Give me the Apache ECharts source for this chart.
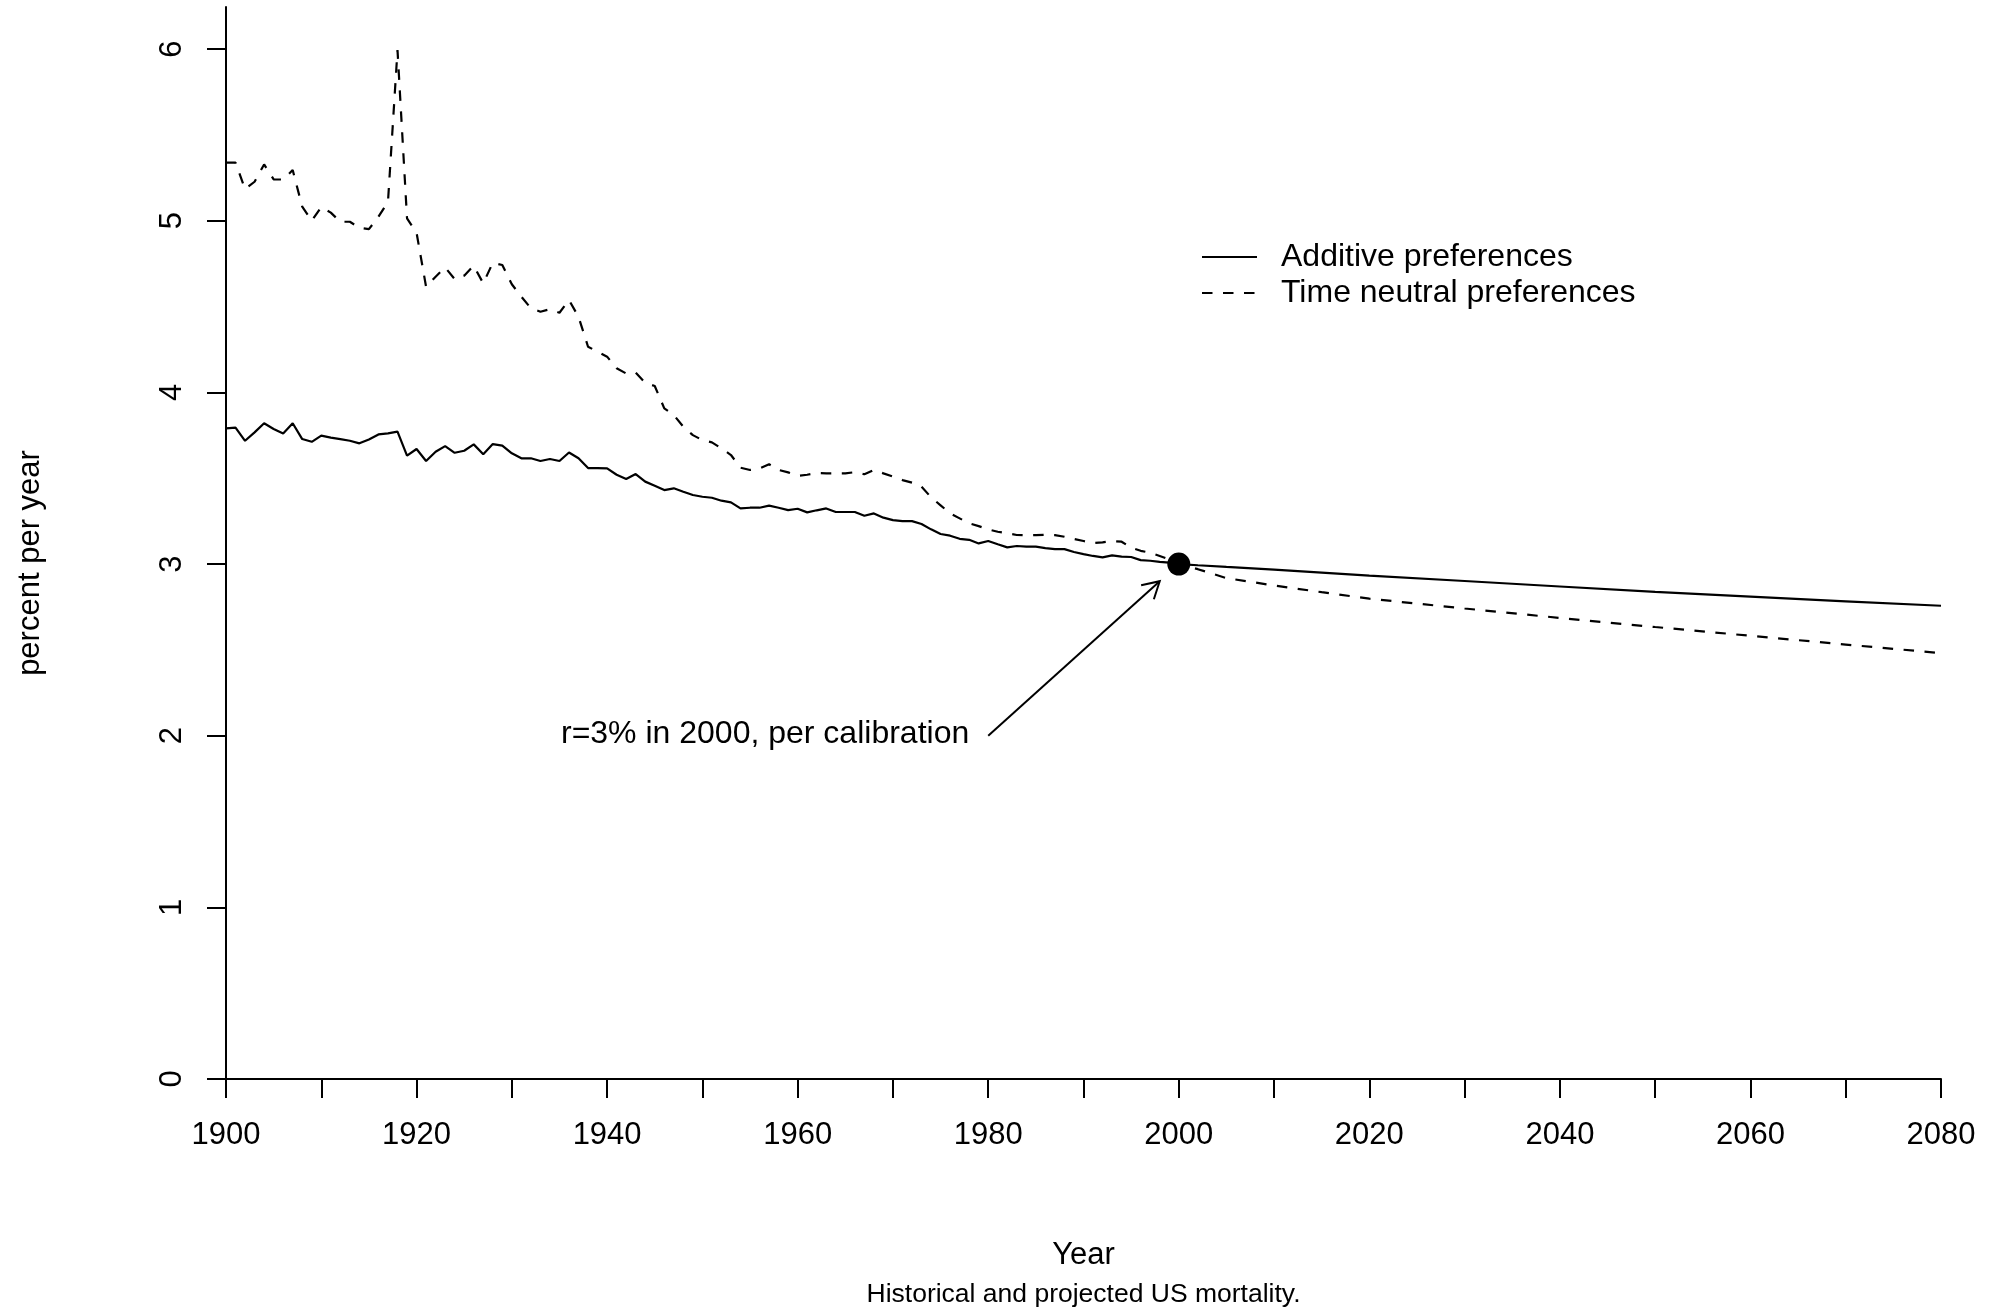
<!DOCTYPE html>
<html>
<head>
<meta charset="utf-8">
<script src="https://cdn.jsdelivr.net/npm/echarts@6/dist/echarts.min.js"></script>
<style>html,body{margin:0;padding:0;background:#fff}#c{width:2000px;height:1312px}</style>
</head>
<body>
<div id="c"></div>
<script>
// ---------------- data ----------------
const histStart = 1900;
const additiveHist = [
  3.79, 3.795, 3.718, 3.767, 3.82, 3.787, 3.761, 3.82, 3.728, 3.712,
  3.748, 3.736, 3.728, 3.718, 3.703, 3.726, 3.755, 3.761, 3.771, 3.631,
  3.67, 3.60, 3.654, 3.687, 3.648, 3.66, 3.697, 3.64, 3.699, 3.69,
  3.645, 3.616, 3.616, 3.60, 3.612, 3.60, 3.65, 3.616, 3.559, 3.559,
  3.557, 3.52, 3.495, 3.524, 3.48, 3.456, 3.431, 3.441, 3.421, 3.402,
  3.392, 3.386, 3.369, 3.359, 3.324, 3.328, 3.328, 3.34, 3.328, 3.314,
  3.322, 3.301, 3.313, 3.324, 3.303, 3.303, 3.303, 3.281, 3.295, 3.27,
  3.256, 3.25, 3.25, 3.233, 3.202, 3.175, 3.165, 3.147, 3.141, 3.12,
  3.134, 3.115, 3.097, 3.105, 3.101, 3.101, 3.093, 3.087, 3.087, 3.07,
  3.058, 3.047, 3.039, 3.05, 3.043, 3.041, 3.023, 3.019, 3.013, 3.008,
  3.0
];
const neutralHist = [
  5.338, 5.338, 5.184, 5.227, 5.328, 5.241, 5.24, 5.295, 5.082, 5.0,
  5.08, 5.047, 4.994, 4.994, 4.959, 4.951, 5.023, 5.11, 5.994, 5.014,
  4.93, 4.615, 4.674, 4.728, 4.66, 4.68, 4.738, 4.635, 4.755, 4.742,
  4.63, 4.557, 4.49, 4.47, 4.484, 4.464, 4.538, 4.44, 4.266, 4.237,
  4.208, 4.14, 4.11, 4.115, 4.056, 4.037, 3.907, 3.868, 3.80, 3.751,
  3.722, 3.709, 3.674, 3.635, 3.561, 3.548, 3.557, 3.581, 3.548, 3.534,
  3.514, 3.52, 3.53, 3.528, 3.528, 3.528, 3.535, 3.523, 3.548, 3.528,
  3.509, 3.489, 3.474, 3.45, 3.389, 3.342, 3.295, 3.266, 3.237, 3.221,
  3.202, 3.188, 3.179, 3.169, 3.168, 3.168, 3.17, 3.168, 3.159, 3.146,
  3.134, 3.122, 3.126, 3.134, 3.13, 3.095, 3.077, 3.066, 3.047, 3.027,
  3.0
];
const projYears    = [2002, 2005, 2010, 2015, 2020, 2030, 2040, 2050, 2060, 2070, 2080];
const additiveProj = [2.993, 2.983, 2.967, 2.95, 2.933, 2.901, 2.869, 2.838, 2.81, 2.783, 2.757];
const neutralProj  = [2.97, 2.918, 2.875, 2.836, 2.798, 2.741, 2.686, 2.633, 2.582, 2.531, 2.481];

const calibPoint = [2000, 3.0];
const annoFrom = [1980, 2.0];
const annoTo = [1998, 2.9];
const annoText = 'r=3% in 2000, per calibration';

const seriesNames = ['Additive preferences', 'Time neutral preferences'];
const xTitle = 'Year';
const yTitle = 'percent per year';
const subTitle = 'Historical and projected US mortality.';

// --------------- build ---------------
function buildSeries(hist, projY, projV) {
  const out = hist.map((v, i) => [histStart + i, v]);
  projY.forEach((y, i) => out.push([y, projV[i]]));
  return out;
}
const addData = buildSeries(additiveHist, projYears, additiveProj);
const neuData = buildSeries(neutralHist, projYears, neutralProj);

const FONT = 'Liberation Sans, Arial, Helvetica, sans-serif';
const DASH = [10.5, 10.5];
const chart = echarts.init(document.getElementById('c'), null, {renderer: 'canvas'});

// legend layout (drawn as graphic so the key shows plain line styles)
const LEG_X0 = 1202, LEG_X1 = 1257, LEG_TX = 1281, LEG_Y = [257, 293];

chart.setOption({
  animation: false,
  backgroundColor: '#ffffff',
  textStyle: {fontFamily: FONT, color: '#000'},
  grid: {left: 226, right: 59, top: 7, bottom: 233, containLabel: false},
  xAxis: {
    type: 'value', min: 1900, max: 2080, interval: 10,
    axisLine: {show: true, lineStyle: {color: '#000', width: 2}},
    axisTick: {show: true, length: 19, lineStyle: {color: '#000', width: 2}},
    axisLabel: {
      margin: 41, fontSize: 31, color: '#000', fontFamily: FONT,
      formatter: v => (v % 20 === 0 ? String(v) : '')
    },
    splitLine: {show: false}
  },
  yAxis: {
    type: 'value', min: 0, max: 6.245, interval: 1,
    axisLine: {show: true, lineStyle: {color: '#000', width: 2}},
    axisTick: {show: true, length: 19, lineStyle: {color: '#000', width: 2}},
    axisLabel: {
      margin: 38, fontSize: 31, color: '#000', fontFamily: FONT, rotate: 90,
      showMaxLabel: false,
      formatter: v => (Number.isInteger(v) ? String(v) : '')
    },
    splitLine: {show: false}
  },
  graphic: [
    {type: 'text', x: 30, y: 563, rotation: Math.PI / 2,
     style: {text: yTitle, x: 0, y: 0, align: 'center', verticalAlign: 'middle', font: '31px ' + FONT, fill: '#000'}},
    {type: 'text', x: 1083.5, y: 1255,
     style: {text: xTitle, x: 0, y: 0, align: 'center', verticalAlign: 'middle', font: '31px ' + FONT, fill: '#000'}},
    {type: 'text', x: 1083.5, y: 1295,
     style: {text: subTitle, x: 0, y: 0, align: 'center', verticalAlign: 'middle', font: '26.5px ' + FONT, fill: '#000'}},
    {type: 'line', shape: {x1: LEG_X0, y1: LEG_Y[0], x2: LEG_X1, y2: LEG_Y[0]},
     style: {stroke: '#000', lineWidth: 2.2}},
    {type: 'line', shape: {x1: LEG_X0, y1: LEG_Y[1], x2: LEG_X1, y2: LEG_Y[1]},
     style: {stroke: '#000', lineWidth: 2.2, lineDash: DASH}},
    {type: 'text', x: LEG_TX, y: LEG_Y[0],
     style: {text: seriesNames[0], x: 0, y: 0, align: 'left', verticalAlign: 'middle', font: '32px ' + FONT, fill: '#000'}},
    {type: 'text', x: LEG_TX, y: LEG_Y[1],
     style: {text: seriesNames[1], x: 0, y: 0, align: 'left', verticalAlign: 'middle', font: '32px ' + FONT, fill: '#000'}}
  ],
  series: [
    {
      name: seriesNames[0], type: 'line', data: addData, symbol: 'none',
      lineStyle: {color: '#000', width: 2.2, type: 'solid'}, itemStyle: {color: '#000'}, z: 2
    },
    {
      name: seriesNames[1], type: 'line', data: neuData, symbol: 'none',
      lineStyle: {color: '#000', width: 2.2, type: DASH}, itemStyle: {color: '#000'}, z: 2
    },
    {
      name: 'calibration', type: 'scatter', data: [calibPoint], symbol: 'circle', symbolSize: 23,
      itemStyle: {color: '#000', opacity: 1}, z: 5
    },
    {
      name: 'annotation', type: 'custom', data: [[annoFrom[0], annoFrom[1], annoTo[0], annoTo[1]]],
      clip: false, z: 4,
      renderItem: function (params, api) {
        const p0 = api.coord([api.value(0), api.value(1)]);
        const p1 = api.coord([api.value(2), api.value(3)]);
        const ang = Math.atan2(p1[1] - p0[1], p1[0] - p0[0]);
        const L = 19, A = Math.PI / 6;
        const a1 = [p1[0] - L * Math.cos(ang - A), p1[1] - L * Math.sin(ang - A)];
        const a2 = [p1[0] - L * Math.cos(ang + A), p1[1] - L * Math.sin(ang + A)];
        return {
          type: 'group',
          children: [
            {type: 'line', shape: {x1: p0[0], y1: p0[1], x2: p1[0], y2: p1[1]},
             style: {stroke: '#000', lineWidth: 2}},
            {type: 'polyline', shape: {points: [a1, p1, a2]},
             style: {stroke: '#000', lineWidth: 2, fill: null}},
            {type: 'text', x: p0[0] - 19, y: p0[1] - 2,
             style: {text: annoText, align: 'right', verticalAlign: 'middle', font: '32px ' + FONT, fill: '#000'}}
          ]
        };
      }
    }
  ]
});
</script>
</body>
</html>
